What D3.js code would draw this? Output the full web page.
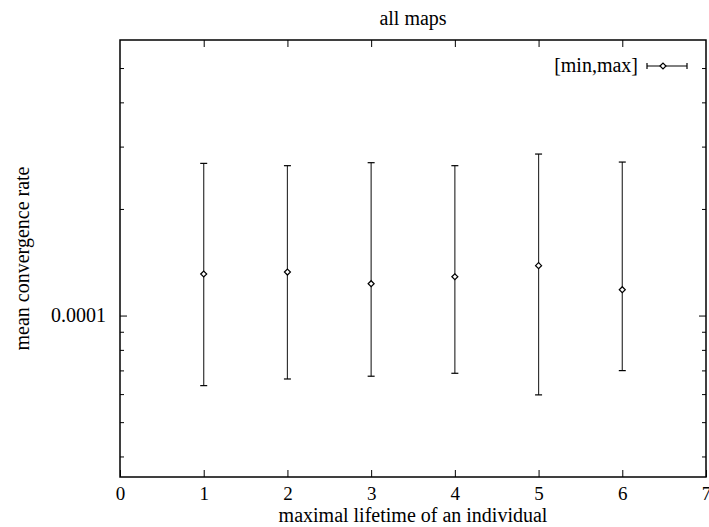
<!DOCTYPE html>
<html>
<head>
<meta charset="utf-8">
<script src="https://cdn.jsdelivr.net/npm/d3@7"></script>
<style>
  body { margin: 0; background: white; }
  svg text { font-family: "Liberation Serif", "Times New Roman", serif; font-size: 20px; fill: black; }
</style>
</head>
<body>
<div id="vis"></div>
<script>
// values
let lifetimes = [1, 2, 3, 4, 5, 6];
let meanRate = [1.31e-4, 1.327e-4, 1.23e-4, 1.287e-4, 1.383e-4, 1.183e-4];
let minRate = [0.634e-4, 0.662e-4, 0.674e-4, 0.687e-4, 0.597e-4, 0.699e-4];
let maxRate = [2.69e-4, 2.65e-4, 2.702e-4, 2.65e-4, 2.858e-4, 2.713e-4];
let xTicks = [0, 1, 2, 3, 4, 5, 6, 7];
let yMajor = [1e-4];
let yMinor = [4e-5, 5e-5, 6e-5, 7e-5, 8e-5, 9e-5, 2e-4, 3e-4, 4e-4, 5e-4];

let serif = '"Liberation Serif", "Times New Roman", serif';

let margin = { top: 40, left: 120, right: 3, bottom: 50 },
  width = 709 - margin.left - margin.right,
  height = 527 - margin.top - margin.bottom;

let svg = d3.select('#vis')
  .append('svg')
  .attr('width', 709)
  .attr('height', 527);

let g = svg.append('g')
  .attr('transform', `translate(${margin.left},${margin.top})`);

let x = d3.scaleLinear().domain([0, 7]).range([0, width]);
let y = d3.scaleLog().domain([3.5e-5, 6e-4]).range([height, 0]);

// tick marks, mirrored on all sides like gnuplot
let xAxisG = g.append('g')
  .attr('transform', `translate(0,${height})`)
  .call(d3.axisBottom(x).tickValues(xTicks).tickSizeInner(-7).tickSizeOuter(0).tickPadding(10).tickFormat(d3.format('d')))
  .call(a => a.select('.domain').remove());
g.append('g')
  .call(d3.axisTop(x).tickValues(xTicks.slice(1, -1)).tickSizeInner(-7).tickSizeOuter(0).tickFormat(''))
  .call(a => a.select('.domain').remove());
g.append('g')
  .call(d3.axisLeft(y).tickValues(yMajor).tickSizeInner(-7).tickSizeOuter(0).tickPadding(14).tickFormat(d3.format('.4f')))
  .call(a => a.select('.domain').remove());
g.append('g')
  .attr('transform', `translate(${width},0)`)
  .call(d3.axisRight(y).tickValues(yMajor).tickSizeInner(-7).tickSizeOuter(0).tickFormat(''))
  .call(a => a.select('.domain').remove());
g.append('g')
  .call(d3.axisLeft(y).tickValues(yMinor).tickSizeInner(-4).tickSizeOuter(0).tickFormat(''))
  .call(a => a.select('.domain').remove());
g.append('g')
  .attr('transform', `translate(${width},0)`)
  .call(d3.axisRight(y).tickValues(yMinor).tickSizeInner(-4).tickSizeOuter(0).tickFormat(''))
  .call(a => a.select('.domain').remove());

g.selectAll('.tick line').attr('stroke', 'black');
g.selectAll('.tick text')
  .attr('font-family', serif)
  .style('font-family', serif)
  .style('font-size', '20px');
xAxisG.selectAll('.tick text').style('font-size', '19px');

// frame
g.append('rect')
  .attr('width', width)
  .attr('height', height)
  .attr('fill', 'none')
  .attr('stroke', 'black')
  .attr('stroke-width', 1.5);

// error bars
let cap = 3.5;
let pts = g.selectAll('.pt')
  .data(lifetimes)
  .enter().append('g');
pts.append('line')
  .attr('x1', (d) => x(d)).attr('x2', (d) => x(d))
  .attr('y1', (d, i) => y(minRate[i])).attr('y2', (d, i) => y(maxRate[i]))
  .attr('stroke', '#333').attr('stroke-width', 1.2);
pts.append('line')
  .attr('x1', (d) => x(d) - cap).attr('x2', (d) => x(d) + cap)
  .attr('y1', (d, i) => y(minRate[i])).attr('y2', (d, i) => y(minRate[i]))
  .attr('stroke', 'black').attr('stroke-width', 1.2);
pts.append('line')
  .attr('x1', (d) => x(d) - cap).attr('x2', (d) => x(d) + cap)
  .attr('y1', (d, i) => y(maxRate[i])).attr('y2', (d, i) => y(maxRate[i]))
  .attr('stroke', 'black').attr('stroke-width', 1.2);
pts.append('path')
  .attr('d', (d, i) => {
    let cx = x(d), cy = y(meanRate[i]), r = 3;
    return `M${cx - r},${cy}L${cx},${cy - r}L${cx + r},${cy}L${cx},${cy + r}Z`;
  })
  .attr('fill', 'white').attr('stroke', 'black').attr('stroke-width', 1.2);

// legend
let ly = 26;
g.append('text')
  .attr('x', 518).attr('y', ly + 6)
  .attr('text-anchor', 'end')
  .text('[min,max]');
g.append('line').attr('x1', 527).attr('x2', 567).attr('y1', ly).attr('y2', ly)
  .attr('stroke', 'black').attr('stroke-width', 1.2);
g.append('line').attr('x1', 527).attr('x2', 527).attr('y1', ly - 3).attr('y2', ly + 3)
  .attr('stroke', 'black').attr('stroke-width', 1.2);
g.append('line').attr('x1', 567).attr('x2', 567).attr('y1', ly - 3).attr('y2', ly + 3)
  .attr('stroke', 'black').attr('stroke-width', 1.2);
g.append('path')
  .attr('d', `M540,${ly}L543,${ly - 3}L546,${ly}L543,${ly + 3}Z`)
  .attr('fill', 'white').attr('stroke', 'black').attr('stroke-width', 1.2);

// titles
svg.append('text')
  .attr('x', margin.left + width / 2).attr('y', 25)
  .attr('text-anchor', 'middle')
  .text('all maps');
svg.append('text')
  .attr('x', margin.left + width / 2).attr('y', 522)
  .attr('text-anchor', 'middle')
  .text('maximal lifetime of an individual');
svg.append('text')
  .attr('transform', `translate(29,${margin.top + height / 2}) rotate(-90)`)
  .attr('text-anchor', 'middle')
  .text('mean convergence rate');
</script>
</body>
</html>
